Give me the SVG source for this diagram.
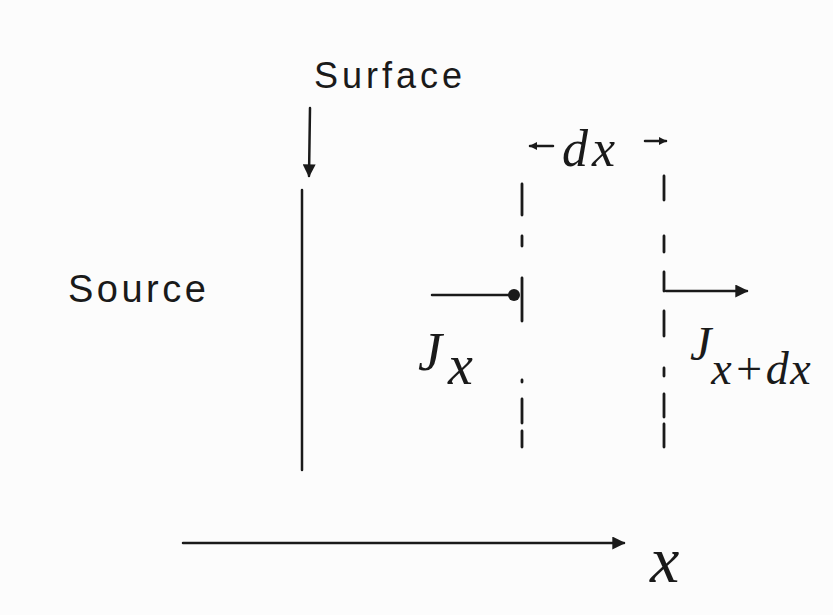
<svg xmlns="http://www.w3.org/2000/svg" width="833" height="615" viewBox="0 0 833 615">
<defs>
<style>
.ln{stroke:#1a1a1a;stroke-width:2.5;fill:none;stroke-linecap:round}
.dash{stroke:#1a1a1a;stroke-width:2.8;fill:none;stroke-linecap:round}
.lbl{font-family:"Liberation Sans",Arial,sans-serif;fill:#1a1a1a}
.math{font-family:"Liberation Serif","Times New Roman",serif;font-style:italic;fill:#1a1a1a}
</style>
<marker id="ah" viewBox="0 0 10 10" refX="9" refY="5" markerWidth="8" markerHeight="8" orient="auto" markerUnits="userSpaceOnUse">
<path d="M0,0 L10,5 L0,10 z" fill="#1a1a1a"/>
</marker>
<marker id="ahs" viewBox="0 0 10 10" refX="9" refY="5" markerWidth="13" markerHeight="13" orient="auto" markerUnits="userSpaceOnUse">
<path d="M0,0 L10,5 L0,10 z" fill="#1a1a1a"/>
</marker>
</defs>
<rect width="833" height="615" fill="#fcfcfc"/>
<g id="surface-label">
<text class="lbl" x="314" y="88" font-size="36" letter-spacing="4">Surface</text>
</g>
<g id="source-label">
<text class="lbl" x="68" y="302" font-size="38" letter-spacing="3.5">Source</text>
</g>
<g id="surface-line">
<line class="ln" x1="302" y1="190" x2="302" y2="470"/>
</g>
<g id="plane-x">
<path class="dash" d="M522,184 V215 M522,236 V246 M522,278 V321 M522,380 V382 M522,399 V423 M522,431 V447"/>
</g>
<g id="plane-xdx">
<path class="dash" d="M664,176 V200 M664,236 V252 M664,272 V291 M664,311 V336 M664,368 V376 M664,394 V417 M664,424 V447"/>
</g>
<g id="dx-label">
<text class="math" x="562" y="166" font-size="52" letter-spacing="4">dx</text>
</g>
<g id="jx-label">
<text class="math" x="418" y="370" font-size="54">J<tspan font-size="56" dy="14" dx="6">x</tspan></text>
</g>
<g id="jxdx-label">
<text class="math" x="690" y="360" font-size="48">J<tspan font-size="46" dy="24" letter-spacing="1.5">x+dx</tspan></text>
</g>
<g id="x-axis-label">
<text class="math" x="650" y="582" font-size="66">x</text>
</g>
<g id="connectors">
<line class="ln" x1="310" y1="108" x2="309" y2="176" marker-end="url(#ahs)"/>
<line class="ln" x1="553" y1="146" x2="530" y2="146" marker-end="url(#ah)"/>
<line class="ln" x1="645" y1="141" x2="666" y2="141" marker-end="url(#ah)"/>
<line class="ln" x1="432" y1="295" x2="514" y2="295"/>
<circle cx="514" cy="295" r="6" fill="#1a1a1a"/>
<line class="ln" x1="666" y1="291" x2="747" y2="291" marker-end="url(#ahs)"/>
<line class="ln" x1="183" y1="543" x2="624" y2="543" marker-end="url(#ahs)"/>
</g>
</svg>
